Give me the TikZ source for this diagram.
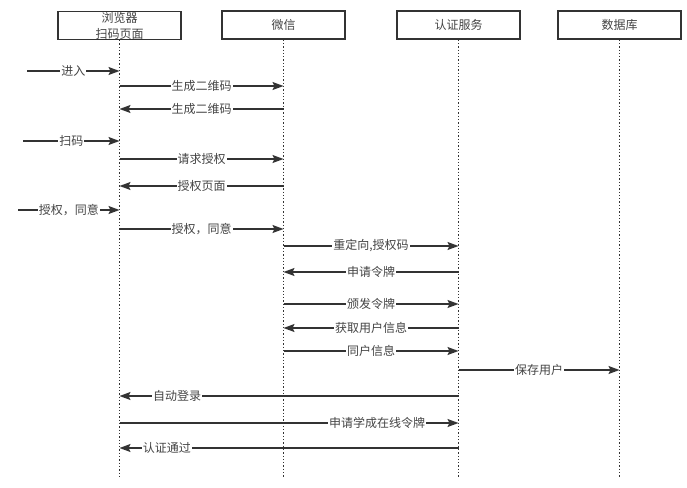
\documentclass[tikz,border=0pt]{standalone}
\usepackage{fontspec}
\setmainfont{Noto Sans CJK SC}
\usetikzlibrary{arrows.meta}
\definecolor{ink}{HTML}{333333}
\definecolor{txt}{HTML}{444444}
\tikzset{
  actor/.style={draw=ink,line width=1.4pt,fill=white,minimum width=123pt,minimum height=28pt,
    inner sep=0pt,align=center,text=txt,font=\fontsize{12}{16}\selectfont},
  lifeline/.style={ink,line width=1.3pt,dotted},
  msg/.style={ink,line width=1.4pt,-{Stealth[length=11pt,width=8pt,inset=2pt]}},
  lbl/.style={fill=white,inner sep=1pt,text=txt,font=\fontsize{12}{13}\selectfont}
}
\begin{document}
\begin{tikzpicture}[x=1pt,y=-1pt]
    \useasboundingbox (0,0) rectangle (687,487);
    % participants
    \node[actor] (browser) at (119.5,25.5) {浏览器\\扫码页面};
    \node[actor] (wechat) at (283.5,25) {微信};
    \node[actor] (auth) at (458.5,25) {认证服务};
    \node[actor] (db) at (619.5,25) {数据库};
    \foreach \n in {browser,wechat,auth,db}
      \draw[lifeline] (\n.south) -- (\n.south |- 0,477);
    % outside starts
    \coordinate (in1) at (27,71);
    \coordinate (in2) at (23,141);
    \coordinate (in3) at (18,210);
    % messages
    \draw[msg] (in1) -- node[lbl] {进入} (browser |- in1);
    \draw[msg] (browser |- 0,86) -- node[lbl] {生成二维码} (wechat |- 0,86);
    \draw[msg] (wechat |- 0,109) -- node[lbl] {生成二维码} (browser |- 0,109);
    \draw[msg] (in2) -- node[lbl] {扫码} (browser |- in2);
    \draw[msg] (browser |- 0,159) -- node[lbl] {请求授权} (wechat |- 0,159);
    \draw[msg] (wechat |- 0,186) -- node[lbl] {授权页面} (browser |- 0,186);
    \draw[msg] (in3) -- node[lbl] {授权，同意} (browser |- in3);
    \draw[msg] (browser |- 0,229) -- node[lbl] {授权，同意} (wechat |- 0,229);
    \draw[msg] (wechat |- 0,246) -- node[lbl] {重定向,授权码} (auth |- 0,246);
    \draw[msg] (auth |- 0,272) -- node[lbl] {申请令牌} (wechat |- 0,272);
    \draw[msg] (wechat |- 0,304) -- node[lbl] {颁发令牌} (auth |- 0,304);
    \draw[msg] (auth |- 0,328) -- node[lbl] {获取用户信息} (wechat |- 0,328);
    \draw[msg] (wechat |- 0,351) -- node[lbl] {同户信息} (auth |- 0,351);
    \draw[msg] (auth |- 0,370) -- node[lbl] {保存用户} (db |- 0,370);
    \draw[msg] (auth |- 0,396) -- node[lbl,pos=0.83] {自动登录} (browser |- 0,396);
    \draw[msg] (browser |- 0,423) -- node[lbl,pos=0.76] {申请学成在线令牌} (auth |- 0,423);
    \draw[msg] (auth |- 0,448) -- node[lbl,pos=0.86] {认证通过} (browser |- 0,448);
\end{tikzpicture}
\end{document}
